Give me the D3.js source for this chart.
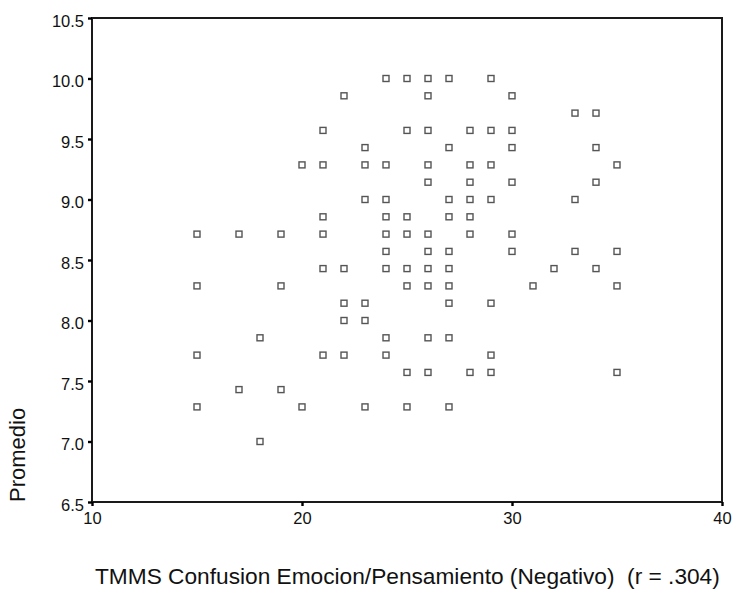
<!DOCTYPE html>
<html>
<head>
<meta charset="utf-8">
<script src="https://cdn.jsdelivr.net/npm/d3@7"></script>
<style>
  html, body { margin: 0; padding: 0; background: #ffffff; }
  svg { display: block; font-family: "Liberation Sans", Arial, sans-serif; }
</style>
</head>
<body>
<svg id="chart" width="735" height="590"></svg>
<script>
// TMMS Confusion Emocion/Pensamiento (x) vs Promedio (y)
const xValues = [
  24,25,26,27,29,
  22,26,30,
  33,34,
  21,25,26,28,29,30,
  23,27,30,34,
  20,21,23,24,26,28,29,35,
  26,28,30,34,
  23,24,27,28,29,33,
  21,24,25,27,28,
  15,17,19,21,24,25,26,28,30,
  24,26,27,30,33,35,
  21,22,24,25,26,27,32,34,
  15,19,25,26,27,31,35,
  22,23,27,29,
  22,23,
  18,24,26,27,
  15,21,22,24,29,
  25,26,28,29,35,
  17,19,
  15,20,23,25,27,
  18
];
const yValues = [
  10.0,10.0,10.0,10.0,10.0,
  9.857,9.857,9.857,
  9.714,9.714,
  9.571,9.571,9.571,9.571,9.571,9.571,
  9.429,9.429,9.429,9.429,
  9.286,9.286,9.286,9.286,9.286,9.286,9.286,9.286,
  9.143,9.143,9.143,9.143,
  9.0,9.0,9.0,9.0,9.0,9.0,
  8.857,8.857,8.857,8.857,8.857,
  8.714,8.714,8.714,8.714,8.714,8.714,8.714,8.714,8.714,
  8.571,8.571,8.571,8.571,8.571,8.571,
  8.429,8.429,8.429,8.429,8.429,8.429,8.429,8.429,
  8.286,8.286,8.286,8.286,8.286,8.286,8.286,
  8.143,8.143,8.143,8.143,
  8.0,8.0,
  7.857,7.857,7.857,7.857,
  7.714,7.714,7.714,7.714,7.714,
  7.571,7.571,7.571,7.571,7.571,
  7.429,7.429,
  7.286,7.286,7.286,7.286,7.286,
  7.0
];
const xTicks = [10, 20, 30, 40];
const yTicks = [6.5, 7.0, 7.5, 8.0, 8.5, 9.0, 9.5, 10.0, 10.5];
const xDomain = [10, 40];
const yDomain = [6.5, 10.5];
const xTitle = "TMMS Confusion Emocion/Pensamiento (Negativo)  (r = .304)";
const yTitle = "Promedio";

const svg = d3.select("#chart");
const mLeft = 92, mRight = 722, mTop = 18, mBottom = 502;

const x = d3.scaleLinear().domain(xDomain).range([mLeft, mRight]);
const y = d3.scaleLinear().domain(yDomain).range([mBottom, mTop]);

// frame
svg.append("rect")
  .attr("x", mLeft).attr("y", mTop)
  .attr("width", mRight - mLeft).attr("height", mBottom - mTop)
  .attr("fill", "none").attr("stroke", "#1a1a1a").attr("stroke-width", 2);

// y axis
const yAxis = svg.append("g")
  .attr("transform", `translate(${mLeft},0)`)
  .call(d3.axisLeft(y).tickValues(yTicks).tickFormat(d3.format(".1f")).tickSize(4).tickPadding(4));
yAxis.select(".domain").remove();
yAxis.selectAll(".tick line").attr("stroke", "#000").attr("stroke-width", 2.4);
yAxis.selectAll(".tick text")
  .attr("font-size", 16.5).attr("fill", "#111")
  .attr("font-family", "Liberation Sans, Arial, sans-serif")
  .attr("dy", "0.5em");

// x axis
const xAxis = svg.append("g")
  .attr("transform", `translate(0,${mBottom})`)
  .call(d3.axisBottom(x).tickValues(xTicks).tickFormat(d3.format("d")).tickSize(4).tickPadding(6));
xAxis.select(".domain").remove();
xAxis.selectAll(".tick line").attr("stroke", "#000").attr("stroke-width", 2.4);
xAxis.selectAll(".tick text")
  .attr("font-size", 16.5).attr("fill", "#111")
  .attr("font-family", "Liberation Sans, Arial, sans-serif");

// points
const pts = xValues.map((v, i) => ({ x: v, y: yValues[i] }));
const s = 6;
svg.append("g").selectAll("rect")
  .data(pts).enter().append("rect")
  .attr("x", d => x(d.x) - s / 2)
  .attr("y", d => y(d.y) - s / 2)
  .attr("width", s).attr("height", s)
  .attr("fill", "#ffffff")
  .attr("stroke", "#555")
  .attr("stroke-width", 1.4);

// titles
svg.append("text")
  .attr("x", 95).attr("y", 584)
  .attr("font-size", 22.7).attr("fill", "#111")
  .style("white-space", "pre")
  .text(xTitle);

svg.append("text")
  .attr("transform", "translate(25,502) rotate(-90)")
  .attr("text-anchor", "start")
  .attr("font-size", 22).attr("fill", "#111")
  .text(yTitle);
</script>
</body>
</html>
